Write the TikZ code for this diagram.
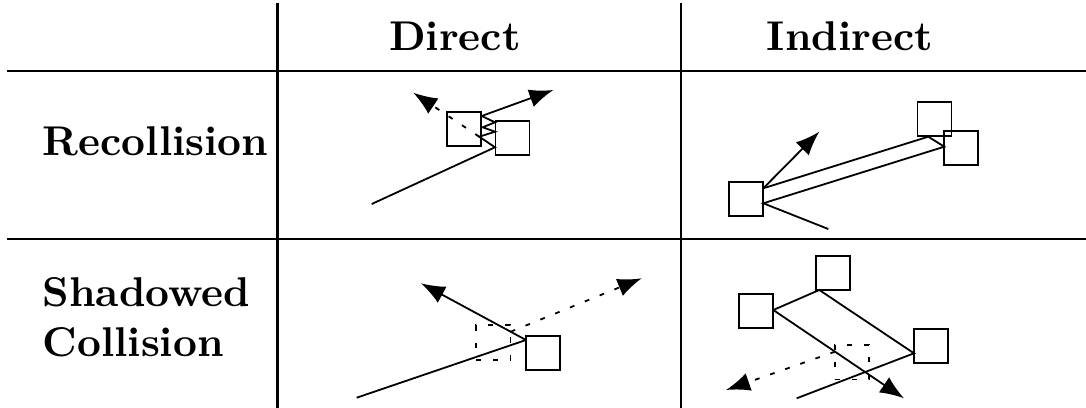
\documentclass[tikz,border=0pt]{standalone}
\usetikzlibrary{arrows.meta}
\begin{document}
\begin{tikzpicture}[x=0.25pt,y=-0.25pt,
  tabline/.style={line width=0.55pt},
  lab/.style={font=\fontsize{10.4}{12.5}\selectfont\bfseries, inner sep=0pt},
  box/.style={draw, line width=0.45pt, minimum size=8.5pt, inner sep=0pt},
  dbox/.style={draw, line width=0.45pt, minimum size=8.6pt, inner sep=0pt, dash pattern=on 1.3pt off 3pt},
  ln/.style={line width=0.45pt},
  arr/.style={line width=0.45pt, -{Latex[length=6pt,width=4.6pt]}},
  darr/.style={arr, dash pattern=on 1.2pt off 2.8pt}]
\useasboundingbox (0,0) rectangle (1086,408);
% table
\coordinate (h1a) at (7,70.7); \coordinate (h1b) at (1086,70.7);
\coordinate (h2a) at (7,239); \coordinate (h2b) at (1086,239);
\coordinate (v1a) at (277.5,3); \coordinate (v1b) at (277.5,408);
\coordinate (v2a) at (681,3); \coordinate (v2b) at (681,408);
\draw[tabline] (h1a) -- (h1b);
\draw[tabline] (h2a) -- (h2b);
\draw[tabline] (v1a) -- (v1b);
\draw[tabline] (v2a) -- (v2b);
% labels
\node[lab, anchor=base] (hdir) at (455,50) {Direct};
\node[lab, anchor=base] (hind) at (850,50) {Indirect};
\node[lab, anchor=base west] (lrec) at (42,155) {Recollision};
\node[lab, anchor=base west] (lsha) at (42,306.7) {Shadowed};
\node[lab, anchor=base west] (lcol) at (42,356.7) {Collision};
% Direct recollision
\node[box] (s1) at (464,129.3) {};
\node[box] (s2) at (512.5,137.8) {};
\coordinate (d1in) at (371.7,204);
\coordinate (d1a) at (495,147.3);
\coordinate (d1b) at (479.3,136.7);
\coordinate (d1c) at (495,131.7);
\coordinate (d1d) at (482.7,127.3);
\coordinate (d1e) at (495,122.3);
\coordinate (d1f) at (481.7,116);
\coordinate (d1out) at (553.3,90);
\coordinate (d1ghost) at (413.3,92.7);
\draw[ln] (d1in) -- (d1a) -- (d1b) -- (d1c) -- (d1d) -- (d1e) -- (d1f);
\draw[arr] (d1f) -- (d1out);
\draw[darr] (d1b) -- (d1ghost);
% Indirect recollision
\node[box] (ia) at (746.3,198.7) {};
\node[box] (ib) at (934.5,119.2) {};
\node[box] (ic) at (961.3,148) {};
\coordinate (i1in) at (828.3,229);
\coordinate (i1a) at (763.3,203.3);
\coordinate (i1c) at (944.3,146.7);
\coordinate (i1b) at (928.3,136.7);
\coordinate (i1d) at (763.3,188.3);
\coordinate (i1out) at (819.3,131.7);
\draw[ln] (i1in) -- (i1a) -- (i1c) -- (i1b) -- (i1d);
\draw[arr] (i1d) -- (i1out);
% Direct shadowed
\node[box] (sq) at (543.2,353) {};
\node[dbox] (dq) at (493.3,342.5) {};
\coordinate (d2in) at (356.7,397.7);
\coordinate (d2a) at (526,340);
\coordinate (d2out) at (421,283.3);
\coordinate (d2s) at (510.7,331.7);
\coordinate (d2ghost) at (641.7,278.3);
\draw[ln] (d2in) -- (d2a);
\draw[arr] (d2a) -- (d2out);
\draw[darr] (d2s) -- (d2ghost);
% Indirect shadowed
\node[box] (ip) at (756.3,311.3) {};
\node[box] (iq) at (832.8,272.8) {};
\node[box] (ir) at (931.2,345.8) {};
\node[dbox] (iqd) at (852.2,362.2) {};
\coordinate (i2in) at (796.7,398.3);
\coordinate (i2r) at (914,353.3);
\coordinate (i2q) at (819.3,290);
\coordinate (i2p) at (773.3,310);
\coordinate (i2out) at (904,398.3);
\coordinate (i2s) at (835,351.7);
\coordinate (i2ghost) at (726,390);
\draw[ln] (i2in) -- (i2r) -- (i2q) -- (i2p);
\draw[arr] (i2p) -- (i2out);
\draw[darr] (i2s) -- (i2ghost);
\end{tikzpicture}
\end{document}
